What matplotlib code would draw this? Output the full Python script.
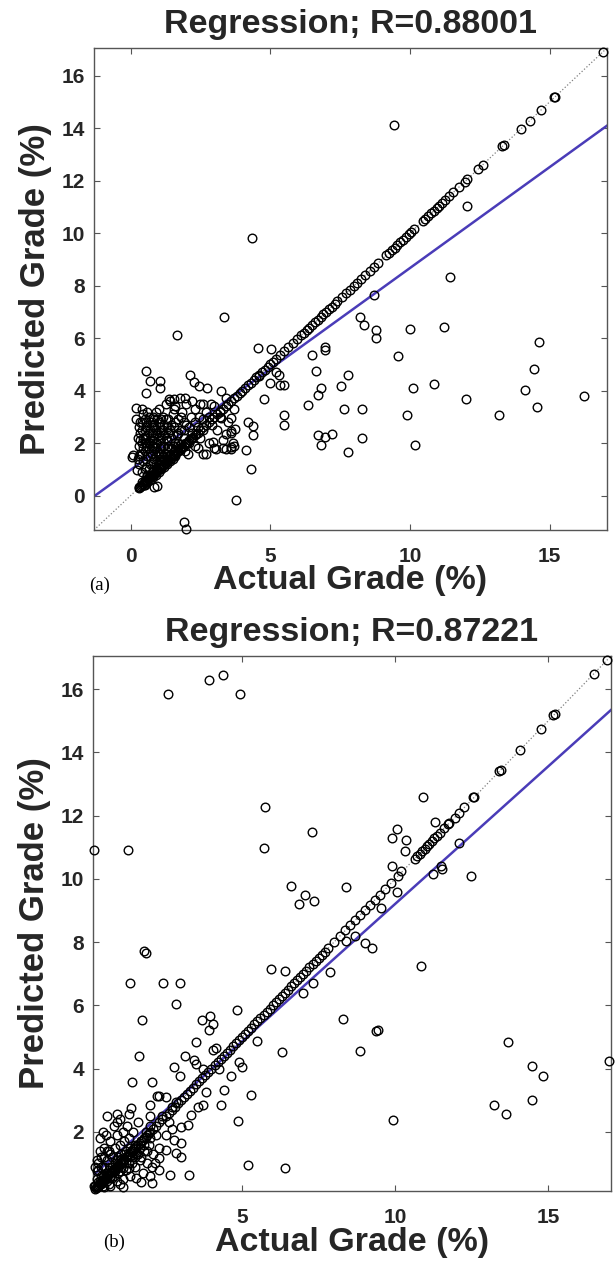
import matplotlib
matplotlib.use("Agg")
import matplotlib.pyplot as plt

plt.rcParams['font.family'] = ['Liberation Sans', 'DejaVu Sans']

# ---------------- data: panel (a) ----------------
a_title = "Regression; R=0.88001"
a_lims = [-1.31, 17.05]
a_xticks = [0, 5, 10, 15]
a_yticks = [0, 2, 4, 6, 8, 10, 12, 14, 16]
a_fit = [0.769, 0.98]          # slope, intercept

a_diag = [0.30, 0.33, 0.36, 0.40, 0.43, 0.46, 0.50, 0.53, 0.56, 0.60, 0.63, 0.66, 0.70,
          0.73, 0.76, 0.80, 0.83, 0.86, 0.90, 0.93, 0.96, 1.00, 1.04, 1.08, 1.12, 1.16,
          1.20, 1.25, 1.30, 1.35, 1.40, 1.45, 1.50, 1.55, 1.60, 1.65, 1.70, 1.75, 1.80,
          1.85, 1.90, 1.95, 2.00, 2.05, 2.10, 2.15, 2.20, 2.25, 2.30, 2.35, 2.40, 2.50,
          2.60, 2.70, 2.80, 2.90, 3.00, 3.10, 3.20, 3.30, 3.40, 3.50, 3.60, 3.70, 3.80,
          3.90, 4.00, 4.10, 4.20, 4.30, 4.40, 4.50, 4.60, 4.70, 4.80, 4.90, 5.00, 5.10,
          5.20, 5.35, 5.50, 5.65, 5.80, 5.95, 6.10, 6.20, 6.30, 6.40, 6.50, 6.60, 6.70,
          6.80, 6.90, 7.00, 7.10, 7.20, 7.30, 7.40, 7.55, 7.70, 7.85, 8.00, 8.10, 8.25,
          8.40, 8.55, 8.70, 8.85, 9.15, 9.25, 9.35, 9.45, 9.55, 9.65, 9.75, 9.85, 9.95,
          10.05, 10.15, 10.45, 10.55, 10.65, 10.75, 10.85, 10.95, 11.05, 11.15, 11.25,
          11.40, 11.55, 11.75, 11.95, 12.05, 12.45, 12.60, 13.30, 13.35, 13.98, 14.28,
          14.70, 15.17, 15.20, 16.90]

a_cluster = [(0.25, 2.2), (0.3, 1.9), (0.3, 2.6), (0.35, 1.6), (0.35, 2.4), (0.4, 2.0),
             (0.4, 2.8), (0.45, 1.3), (0.45, 2.2), (0.5, 1.7), (0.5, 2.5), (0.5, 2.9),
             (0.55, 1.1), (0.55, 2.0), (0.6, 1.5), (0.6, 2.3), (0.6, 2.7), (0.65, 1.8),
             (0.65, 3.0), (0.7, 1.2), (0.7, 2.1), (0.7, 2.5), (0.75, 1.6), (0.75, 2.8),
             (0.8, 1.0), (0.8, 1.9), (0.8, 2.3), (0.85, 1.4), (0.85, 2.6), (0.9, 2.0),
             (0.9, 3.2), (0.95, 1.7), (0.95, 2.4), (1.0, 1.3), (1.0, 2.8), (1.0, 3.3),
             (1.05, 2.1), (1.1, 1.6), (1.1, 2.5), (1.15, 1.9), (1.15, 3.0), (1.2, 1.4),
             (1.2, 2.3), (1.2, 2.7), (1.25, 3.5), (1.3, 1.8), (1.3, 2.1), (1.35, 2.9),
             (1.4, 1.5), (1.4, 2.5), (1.4, 3.6), (1.45, 2.2), (1.5, 1.9), (1.5, 3.1),
             (1.55, 2.6), (1.6, 1.6), (1.6, 3.4), (1.65, 2.3), (1.7, 2.0), (1.7, 2.9),
             (1.75, 3.7), (1.8, 1.8), (1.8, 2.5), (1.85, 3.2), (1.9, 2.2), (1.95, 1.7),
             (2.0, 2.7), (2.0, 3.5), (2.1, 2.0), (2.15, 3.0), (2.2, 2.4), (2.3, 1.9),
             (2.3, 3.3), (2.4, 2.6), (2.5, 2.2), (2.5, 3.5), (2.6, 1.6), (2.6, 2.9),
             (2.7, 3.2), (2.8, 2.0), (2.9, 2.7), (3.0, 3.4), (3.0, 1.8), (3.1, 2.5),
             (3.2, 3.0), (3.3, 2.1), (3.4, 3.7), (3.5, 2.8), (3.6, 2.4), (3.7, 3.3),
             (0.2, 2.9), (0.25, 1.4), (0.3, 1.2), (0.4, 0.9), (0.45, 3.1), (0.55, 2.6),
             (0.65, 1.0), (0.75, 2.1), (0.85, 2.9), (0.9, 1.2), (1.05, 1.8), (1.1, 2.9),
             (1.25, 1.6), (1.3, 2.6), (1.45, 1.8), (1.55, 3.3), (1.65, 1.9), (1.9, 2.8),
             (2.05, 1.6), (2.2, 3.6), (2.4, 1.8), (0.6, 0.8), (0.7, 0.7), (0.5, 1.0),
             (1.39, 3.68), (1.57, 3.68), (1.93, 3.70), (2.95, 2.06), (3.07, 1.78),
             (3.31, 1.81), (3.61, 1.85), (3.67, 2.00), (3.43, 2.36), (3.61, 2.45),
             (3.73, 2.52), (3.61, 2.97), (3.25, 2.97), (2.59, 3.48), (2.89, 3.48),
             (3.19, 3.23), (2.71, 1.59),
             (0.3, 1.5), (0.35, 2.1), (0.4, 2.5), (0.45, 1.8), (0.5, 2.2), (0.55, 2.8),
             (0.55, 1.4), (0.6, 1.9), (0.65, 2.4), (0.7, 1.5), (0.7, 2.8), (0.75, 1.9),
             (0.75, 2.4), (0.8, 1.3), (0.8, 2.7), (0.85, 1.8), (0.85, 2.2), (0.9, 1.5),
             (0.9, 2.5), (0.95, 2.0), (0.95, 2.9), (1.0, 1.6), (1.0, 2.3), (1.05, 2.6),
             (1.05, 1.4), (1.1, 2.2), (1.15, 1.5), (1.15, 2.5), (1.2, 1.9), (1.25, 2.2),
             (1.25, 2.9), (1.3, 1.5), (1.35, 2.4), (1.35, 1.9), (1.45, 2.7), (1.5, 2.3),
             (1.6, 2.0), (1.6, 2.8), (1.7, 2.4), (1.75, 1.8), (1.8, 3.0), (1.9, 2.5),
             (2.0, 2.0), (2.1, 2.6), (2.2, 2.2), (2.3, 2.8), (2.45, 3.0), (2.6, 2.5),
             (2.8, 3.0), (0.4, 1.6), (0.5, 2.0), (0.65, 2.0), (0.9, 1.8), (1.1, 1.9),
             (0.6, 3.2), (0.8, 3.0), (0.35, 2.8), (0.4, 3.3),
             (0.4, 0.5), (0.5, 0.6), (0.6, 0.75), (0.7, 0.8), (0.8, 0.95), (0.9, 1.0),
             (1.0, 1.15), (1.1, 1.2), (1.2, 1.35), (1.3, 1.4), (1.4, 1.55), (1.5, 1.6),
             (1.6, 1.75), (1.7, 1.8), (1.8, 1.95), (0.5, 0.4), (0.6, 0.5), (0.7, 0.6),
             (0.8, 0.7), (0.9, 0.8), (1.0, 0.9), (1.1, 1.0), (1.2, 1.1), (1.3, 1.2),
             (1.4, 1.3), (1.5, 1.4), (1.6, 1.5)]

a_outliers = [(0.54, 4.74), (0.68, 4.36), (0.54, 3.89), (0.21, 3.35), (0.07, 1.53),
              (1.06, 4.36), (1.06, 4.08), (2.14, 4.61), (2.28, 4.33), (2.46, 4.18),
              (2.75, 4.10), (3.24, 3.97), (4.79, 3.69), (4.99, 4.29), (4.58, 4.55),
              (5.20, 4.70), (5.30, 4.60), (5.35, 4.23), (5.50, 4.23), (5.49, 3.06),
              (5.49, 2.70), (4.20, 2.80), (4.37, 2.65), (4.37, 2.32), (4.13, 1.72),
              (4.30, 1.02), (3.77, -0.17), (1.90, -0.99), (1.97, -1.27), (3.70, 1.90),
              (3.60, 1.76), (3.40, 1.76), (3.35, 6.80), (1.66, 6.10), (4.55, 5.63),
              (5.04, 5.60), (6.35, 3.44), (6.50, 5.35), (6.63, 4.74), (6.69, 3.85),
              (6.83, 4.10), (6.97, 5.67), (6.97, 5.54), (6.70, 2.29), (6.97, 2.23),
              (7.20, 2.36), (6.83, 1.91), (7.54, 4.18), (7.65, 3.31), (7.79, 4.59),
              (7.79, 1.66), (8.21, 6.82), (8.35, 6.50), (8.27, 3.31), (8.27, 2.19),
              (8.80, 6.30), (8.77, 6.00), (9.58, 5.32), (10.00, 6.34), (9.89, 3.06),
              (10.10, 4.10), (10.18, 1.94), (10.87, 4.27), (11.23, 6.43), (12.00, 3.69),
              (13.20, 3.08), (14.13, 4.01), (14.44, 4.82), (14.60, 5.86), (14.55, 3.38),
              (16.24, 3.78), (9.44, 14.10), (4.34, 9.83), (12.04, 11.05), (11.43, 8.32),
              (8.72, 7.65), (0.30, 0.32), (0.48, 0.39), (0.84, 0.32), (0.96, 0.35),
              (0.24, 0.97), (0.04, 1.48)]

# ---------------- data: panel (b) ----------------
b_title = "Regression; R=0.87221"
b_lims = [0.13, 17.05]
b_xticks = [5, 10, 15]
b_yticks = [2, 4, 6, 8, 10, 12, 14, 16]
b_fit = [0.87, 0.51]           # slope, intercept

b_diag = [0.20, 0.23, 0.26, 0.30, 0.33, 0.36, 0.40, 0.43, 0.46, 0.50, 0.53, 0.56, 0.60,
          0.63, 0.66, 0.70, 0.73, 0.76, 0.80, 0.84, 0.88, 0.92, 0.96, 1.00, 1.05, 1.10,
          1.15, 1.20, 1.25, 1.30, 1.35, 1.40, 1.45, 1.50, 1.55, 1.60, 1.65, 1.70, 1.75,
          1.80, 1.85, 1.90, 1.95, 2.00, 2.10, 2.20, 2.30, 2.40, 2.50, 2.60, 2.70, 2.80,
          2.90, 3.00, 3.10, 3.20, 3.30, 3.40, 3.50, 3.60, 3.70, 3.80, 3.90, 4.00, 4.10,
          4.20, 4.30, 4.40, 4.50, 4.60, 4.70, 4.80, 4.90, 5.00, 5.10, 5.20, 5.30, 5.40,
          5.50, 5.60, 5.70, 5.80, 5.90, 6.00, 6.10, 6.20, 6.30, 6.40, 6.50, 6.60, 6.70,
          6.80, 6.90, 7.00, 7.10, 7.20, 7.30, 7.40, 7.50, 7.60, 7.70, 7.80, 7.99, 8.20,
          8.37, 8.53, 8.69, 8.85, 9.02, 9.18, 9.34, 9.50, 9.67, 9.88, 10.08, 10.64, 10.72,
          10.80, 10.88, 10.96, 11.04, 11.12, 11.20, 11.28, 11.36, 11.45, 11.61, 11.77,
          11.94, 12.10, 12.26, 12.59, 13.40, 13.45, 14.07, 14.75, 15.17, 15.22, 16.48,
          16.92]

b_cluster = [(0.2, 0.3), (0.25, 0.5), (0.3, 0.25), (0.3, 0.8), (0.35, 0.45), (0.4, 1.2),
             (0.4, 0.6), (0.45, 0.3), (0.5, 0.9), (0.5, 1.5), (0.55, 0.5), (0.55, 1.9),
             (0.6, 0.7), (0.6, 1.1), (0.65, 0.35), (0.65, 1.4), (0.7, 0.9), (0.7, 1.7),
             (0.75, 0.55), (0.75, 1.2), (0.8, 2.2), (0.8, 0.8), (0.85, 1.0), (0.85, 1.5),
             (0.9, 0.45), (0.9, 1.9), (0.95, 1.2), (0.95, 0.7), (1.0, 1.6), (1.0, 2.4),
             (1.05, 0.9), (1.05, 1.3), (1.1, 2.0), (1.1, 0.5), (1.15, 1.1), (1.15, 1.7),
             (1.2, 0.8), (1.2, 1.4), (1.25, 2.2), (1.3, 1.0), (1.3, 1.8), (1.35, 0.6),
             (1.35, 1.5), (1.4, 1.2), (1.45, 2.0), (1.5, 0.9), (1.5, 1.6), (1.55, 1.3),
             (1.6, 2.3), (1.65, 1.1), (1.7, 1.7), (1.75, 0.7), (1.8, 1.4), (1.85, 2.0),
             (1.9, 1.0), (1.95, 1.6), (2.0, 2.2), (2.1, 1.3), (2.2, 1.9), (2.3, 1.5),
             (2.4, 2.5), (2.5, 1.9), (2.6, 2.3), (2.7, 2.8), (0.25, 1.1), (0.35, 1.8),
             (0.45, 2.0), (0.2, 0.9), (0.15, 0.3), (0.5, 0.25), (0.7, 0.3), (1.0, 0.35),
             (1.1, 0.25), (0.6, 2.5), (1.3, 2.55), (1.7, 0.4), (2.0, 0.6), (1.55, 0.55),
             (0.92, 2.58), (0.90, 2.32), (1.36, 2.74), (2.00, 2.84), (2.00, 2.50),
             (2.23, 3.13), (2.30, 3.13), (2.50, 3.10), (2.84, 2.95), (2.71, 2.10),
             (2.79, 1.74), (3.01, 1.65), (2.52, 1.42), (2.85, 1.34), (3.01, 1.21),
             (2.28, 1.16), (2.07, 0.89), (2.28, 0.79), (2.17, 1.00), (2.65, 0.63),
             (3.28, 0.63), (2.07, 0.37), (3.82, 3.26), (3.71, 2.84), (3.55, 2.79),
             (3.33, 2.53), (3.23, 2.21), (3.01, 2.16),
             (0.3, 0.4), (0.4, 0.35), (0.45, 0.6), (0.55, 0.7), (0.6, 0.45), (0.65, 0.8),
             (0.7, 0.55), (0.75, 0.9), (0.8, 0.6), (0.85, 0.75), (0.9, 1.1), (0.95, 0.9),
             (1.0, 0.75), (1.05, 1.15), (1.1, 0.85), (1.15, 1.3), (1.2, 1.0), (1.25, 1.25),
             (1.3, 0.85), (1.35, 1.25), (1.4, 1.0), (1.45, 1.4), (1.5, 1.2), (1.6, 1.3),
             (1.65, 1.5), (1.7, 1.2), (1.8, 1.6), (1.9, 1.4), (2.0, 1.8), (0.5, 1.2),
             (0.6, 1.4), (0.7, 1.3), (0.4, 0.9), (0.35, 1.4), (0.3, 1.0), (0.25, 0.75)]

b_outliers = [(1.85, 7.65), (1.33, 6.72), (2.41, 6.72), (2.98, 6.72), (2.83, 6.03),
              (1.74, 5.53), (1.62, 4.39), (1.42, 3.58), (2.07, 3.58), (3.48, 4.84),
              (3.15, 4.39), (2.79, 4.05), (2.97, 3.76), (3.44, 4.26), (3.50, 4.16),
              (3.73, 4.00), (3.68, 5.53), (3.95, 5.65), (4.06, 5.42), (3.93, 5.21),
              (4.04, 4.60), (4.14, 4.66), (4.25, 4.00), (4.90, 4.21), (4.99, 4.05),
              (4.63, 3.76), (4.42, 3.32), (4.31, 2.84), (4.85, 2.34), (5.30, 3.16),
              (5.19, 0.95), (6.39, 0.87), (5.96, 7.16), (6.39, 7.08), (6.99, 6.39),
              (7.30, 6.71), (7.86, 7.05), (4.82, 5.84), (5.50, 4.87), (6.31, 4.53),
              (10.86, 7.25), (8.28, 5.57), (9.38, 5.20), (9.45, 5.22), (8.85, 4.56),
              (9.93, 2.38), (13.67, 4.85), (14.46, 4.08), (14.82, 3.78), (14.46, 3.02),
              (13.24, 2.85), (13.62, 2.58), (17.00, 4.25), (9.02, 7.97), (9.23, 7.83),
              (8.40, 8.05), (8.68, 8.21), (1.80, 7.72),
              (0.16, 10.90), (1.27, 10.90), (2.57, 15.84), (3.93, 16.30), (4.36, 16.44),
              (4.94, 15.84), (5.74, 12.26), (5.70, 10.97), (6.61, 9.77), (7.06, 9.49),
              (6.86, 9.20), (7.36, 9.29), (7.27, 11.48), (8.40, 9.73), (10.91, 12.59),
              (10.07, 11.58), (9.90, 11.30), (10.37, 11.24), (10.33, 10.89),
              (11.29, 11.80), (9.90, 10.40), (10.18, 10.24), (10.07, 9.58),
              (9.55, 9.09), (12.08, 11.13), (11.23, 10.15), (11.50, 10.42),
              (11.52, 10.31), (12.47, 10.08), (11.72, 11.74), (12.54, 12.59)]

# ---------------- drawing ----------------
TXT = '#262626'
FIT_COLOR = '#4a3cb8'

fig = plt.figure(figsize=(6.16, 12.64), dpi=100)
ax_a = fig.add_axes([94 / 616, 1 - 530 / 1264, 513 / 616, 482 / 1264])
ax_b = fig.add_axes([93 / 616, 1 - 1191 / 1264, 518 / 616, 535 / 1264])


def draw(ax, diag, cluster, outliers, lims, fit, xticks, yticks, title, xlab_y, ylab_x):
    lo, hi = lims
    ax.plot([lo, hi], [lo, hi], ls=':', color='#808080', lw=0.9, zorder=1)
    ax.plot([lo, hi], [fit[0] * lo + fit[1], fit[0] * hi + fit[1]],
            color=FIT_COLOR, lw=1.8, zorder=2)
    xs = list(diag) + [p[0] for p in cluster] + [p[0] for p in outliers]
    ys = list(diag) + [p[1] for p in cluster] + [p[1] for p in outliers]
    ax.plot(xs, ys, ls='none', marker='o', mfc='none', mec='black', ms=6.2, mew=1.0,
            zorder=3, clip_on=False)
    ax.set_xlim(lo, hi)
    ax.set_ylim(lo, hi)
    ax.set_xticks(xticks)
    ax.set_yticks(yticks)
    ax.tick_params(direction='in', top=True, right=True, length=4, width=0.8,
                   color='#555555', labelsize=15, labelcolor=TXT)
    ax.tick_params(axis='x', pad=12.5)
    ax.tick_params(axis='y', pad=6.5)
    for lab in ax.get_xticklabels() + ax.get_yticklabels():
        lab.set_fontweight('bold')
    for s in ax.spines.values():
        s.set_color('#555555')
        s.set_linewidth(1.0)
    ax.set_title(title, fontsize=24.5, fontweight='bold', color=TXT, pad=11)
    ax.set_xlabel('Actual Grade (%)', fontsize=24.5, fontweight='bold', color=TXT,
                  va='center')
    ax.set_ylabel('Predicted Grade (%)', fontsize=25, fontweight='bold', color=TXT,
                  va='center')
    ax.xaxis.set_label_coords(0.5, xlab_y)
    ax.yaxis.set_label_coords(ylab_x, 0.5)


draw(ax_a, a_diag, a_cluster, a_outliers, a_lims, a_fit, a_xticks, a_yticks, a_title,
     -0.104, -0.115)
draw(ax_b, b_diag, b_cluster, b_outliers, b_lims, b_fit, b_xticks, b_yticks, b_title,
     -0.097, -0.112)

fig.text(100 / 616, 1 - 585 / 1264, '(a)', family=['Liberation Serif', 'DejaVu Serif'],
         fontsize=13.5, ha='center', va='center', color='black')
fig.text(114 / 616, 1 - 1242 / 1264, '(b)', family=['Liberation Serif', 'DejaVu Serif'],
         fontsize=13.5, ha='center', va='center', color='black')

fig.savefig('out.png', dpi=100, facecolor='white')
